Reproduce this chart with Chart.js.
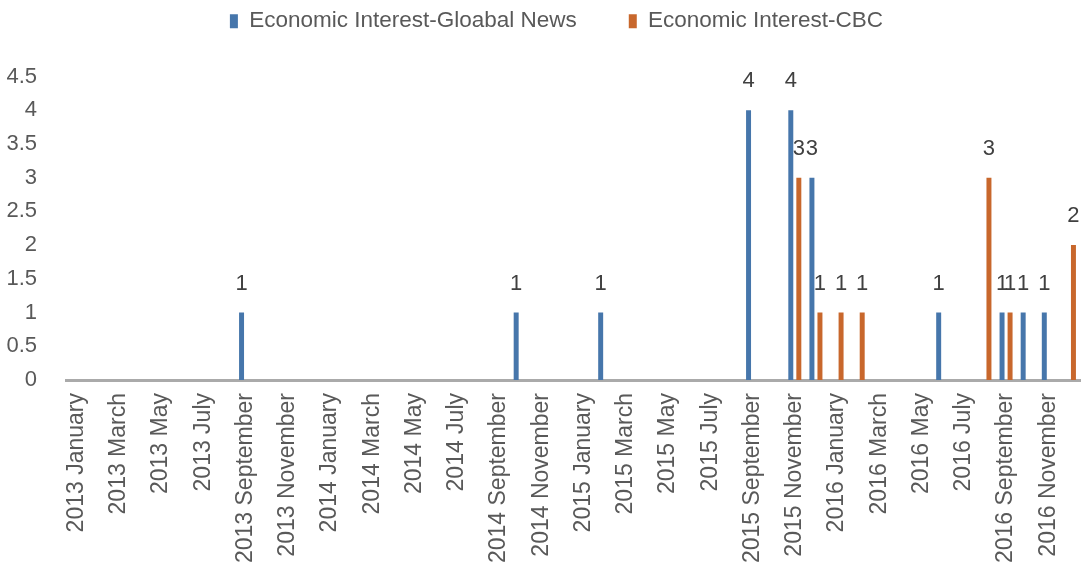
<!DOCTYPE html>
<html>
<head>
<meta charset="utf-8">
<script src="https://cdn.jsdelivr.net/npm/chart.js@4.4.1/dist/chart.umd.min.js"></script>
<style>
  html, body { margin: 0; padding: 0; background: #fff; }
  #wrap { width: 1089px; height: 566px; position: relative; }
</style>
</head>
<body>
<div id="wrap"><canvas id="econChart"></canvas></div>
<script>
const years = [2013, 2014, 2015, 2016];
const monthNames = ["January", "February", "March", "April", "May", "June",
  "July", "August", "September", "October", "November", "December"];

// months that had stories, and how many
const globalNewsMonths = ["2013 September", "2014 October", "2015 February", "2015 September",
  "2015 November", "2015 December", "2016 June", "2016 September", "2016 October", "2016 November"];
const globalNewsCounts = [1, 1, 1, 4, 4, 3, 1, 1, 1, 1];

const cbcMonths = ["2015 November", "2015 December", "2016 January", "2016 February",
  "2016 August", "2016 September", "2016 December"];
const cbcCounts = [3, 1, 1, 1, 3, 1, 2];

const yMax = 4.5;
const yStep = 0.5;

const FONT = '"Liberation Sans", Arial, sans-serif';
const blue = "#4676ab";
const orange = "#c8672c";

const months = years.flatMap(y => monthNames.map(m => `${y} ${m}`));

// spread the counts over every month, blank where nothing was published
function toSeries(list, counts) {
    return months.map(m => {
        const i = list.indexOf(m);
        return i < 0 ? null : counts[i];
    });
}

const valueLabels = {
    id: "valueLabels",
    afterDatasetsDraw(chart) {
        const ctx = chart.ctx;
        ctx.save();
        ctx.font = `22px ${FONT}`;
        ctx.fillStyle = "#404040";
        ctx.textAlign = "center";
        ctx.textBaseline = "bottom";
        chart.data.datasets.forEach((ds, i) => {
            chart.getDatasetMeta(i).data.forEach((bar, j) => {
                if (ds.data[j] == null) return;
                ctx.fillText(ds.data[j], bar.x, bar.y - 18);
            });
        });
        ctx.restore();
    }
};

// extra room between the legend row and the plot
const legendGap = {
    id: "legendGap",
    afterInit(chart) {
        const fit = chart.legend.fit;
        chart.legend.fit = function () {
            fit.call(this);
            this.height += 34;
        };
    }
};

new Chart(document.getElementById("econChart"), {
    type: "bar",
    data: {
        labels: months,
        datasets: [{
            label: "Economic Interest-Gloabal News",
            data: toSeries(globalNewsMonths, globalNewsCounts),
            backgroundColor: blue
        }, {
            label: "Economic Interest-CBC",
            data: toSeries(cbcMonths, cbcCounts),
            backgroundColor: orange
        }]
    },
    options: {
        responsive: true,
        maintainAspectRatio: false,
        animation: false,
        categoryPercentage: 0.76,
        barPercentage: 0.62,
        layout: { padding: { top: -42, right: -24, left: 0, bottom: 0 } },
        plugins: {
            legend: {
                position: "top",
                labels: {
                    boxWidth: 8,
                    boxHeight: 14,
                    padding: 52,
                    color: "#595959",
                    font: { family: FONT, size: 22.5 }
                }
            },
            tooltip: { enabled: false }
        },
        scales: {
            x: {
                grid: { display: false },
                border: { display: true, color: "#aaaaaa", width: 3 },
                afterFit: scale => {
                    scale.height = 186;
                    scale.paddingLeft = 0;
                    scale.paddingRight = 9;
                },
                ticks: {
                    autoSkip: false,
                    minRotation: 90,
                    maxRotation: 90,
                    padding: 5,
                    color: "#595959",
                    font: { family: FONT, size: 23 },
                    callback: function (value, index) {
                        return index % 2 === 0 ? this.getLabelForValue(value) : "";
                    }
                }
            },
            y: {
                min: 0,
                max: yMax,
                grid: { display: false },
                border: { display: false },
                afterFit: scale => { scale.width = 66; },
                ticks: {
                    stepSize: yStep,
                    padding: 21,
                    color: "#595959",
                    font: { family: FONT, size: 22 },
                    callback: value => `${value}`
                }
            }
        }
    },
    plugins: [valueLabels, legendGap]
});
</script>
</body>
</html>
